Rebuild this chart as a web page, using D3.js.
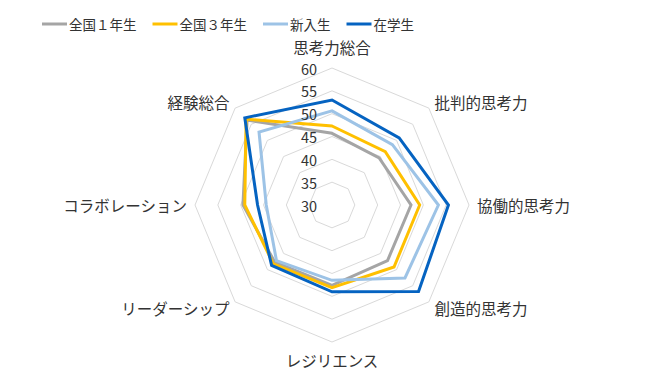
<!DOCTYPE html>
<html>
  <head>
    <meta charset="utf-8">
    <script src="https://d3js.org/d3.v7.min.js"></script>
    <style>
      body { margin: 0; background: white; }
      text { font-family: "Noto Sans CJK JP", "Noto Sans", sans-serif; fill: #333333; }
    </style>
  </head>
  <body>
    <script>
      let axes = ["思考力総合", "批判的思考力", "協働的思考力", "創造的思考力", "レジリエンス", "リーダーシップ", "コラボレーション", "経験総合"];
      let seriesNames = ["全国１年生", "全国３年生", "新入生", "在学生"];
      let zenkoku1 = [45.7, 44.6, 47.3, 47.2, 47.6, 47.7, 49.5, 56.3];
      let zenkoku3 = [47.3, 46.5, 49.2, 49.2, 48.1, 48.2, 49.1, 56.6];
      let shinnyu = [50.6, 48.7, 53.3, 52.6, 46.5, 47.2, 44.4, 52.6];
      let zaigaku = [53.0, 50.8, 55.5, 56.8, 49.0, 48.7, 46.3, 57.0];
      let ticks = [30, 35, 40, 45, 50, 55, 60];
      let colors = ["#a5a5a5", "#ffc000", "#9dc3e6", "#0563c1"];

      let width = 647, height = 376;
      let cx = 332, cy = 205, R = 137;

      let svg = d3.select("body").append("svg")
                  .attr("width", width).attr("height", height);

      let r = d3.scaleLinear().domain([30, 60]).range([0, R]);
      let angle = d3.scalePoint().domain(axes).range([0, 2 * Math.PI * 7 / 8]);

      let g = svg.append("g").attr("transform", `translate(${cx},${cy})`);

      let radial = d3.lineRadial()
                     .angle(d => angle(d.axis))
                     .radius(d => r(d.value))
                     .curve(d3.curveLinearClosed);

      // grid rings
      g.selectAll(".ring").data(ticks.slice(1)).enter().append("path")
        .attr("d", t => radial(axes.map(a => ({axis: a, value: t}))))
        .attr("fill", "none").attr("stroke", "#d9d9d9").attr("stroke-width", 1);

      // series
      let all = [zenkoku1, zenkoku3, shinnyu, zaigaku];
      g.selectAll(".series").data(all).enter().append("path")
        .attr("d", vals => radial(vals.map((v, i) => ({axis: axes[i], value: v}))))
        .attr("fill", "none")
        .attr("stroke", (d, i) => colors[i])
        .attr("stroke-width", 3)
        .attr("stroke-linejoin", "miter");

      // tick labels
      g.selectAll(".tick").data(ticks).enter().append("text")
        .attr("x", -15).attr("y", t => -r(t))
        .attr("text-anchor", "end").attr("dominant-baseline", "central")
        .style("font-size", "14.5px")
        .text(t => t);

      // axis labels
      g.selectAll(".axlabel").data(axes).enter().append("text")
        .each(function(a) {
          let ang = angle(a), s = Math.sin(ang), c = Math.cos(ang);
          let x = (R + 8) * s, y = -(R + 8) * c;
          if (c > 0.9) y -= 13;
          if (c < -0.9) y += 10;
          d3.select(this).attr("x", x).attr("y", y)
            .attr("text-anchor", s > 0.1 ? "start" : (s < -0.1 ? "end" : "middle"));
        })
        .attr("dominant-baseline", "central")
        .style("font-size", "15.5px")
        .text(a => a);

      // legend
      let legend = svg.append("g").attr("transform", "translate(42,24)");
      let lx = 0;
      seriesNames.forEach((name, i) => {
        let item = legend.append("g").attr("transform", `translate(${lx},0)`);
        item.append("line").attr("x1", 0).attr("x2", 25).attr("y1", 0).attr("y2", 0)
          .attr("stroke", colors[i]).attr("stroke-width", 3);
        let t = item.append("text").attr("x", 27).attr("y", 0)
          .attr("dominant-baseline", "central")
          .style("font-size", "13.5px")
          .text(name);
        lx += 27 + t.node().getComputedTextLength() + 16;
      });
    </script>
  </body>
</html>
